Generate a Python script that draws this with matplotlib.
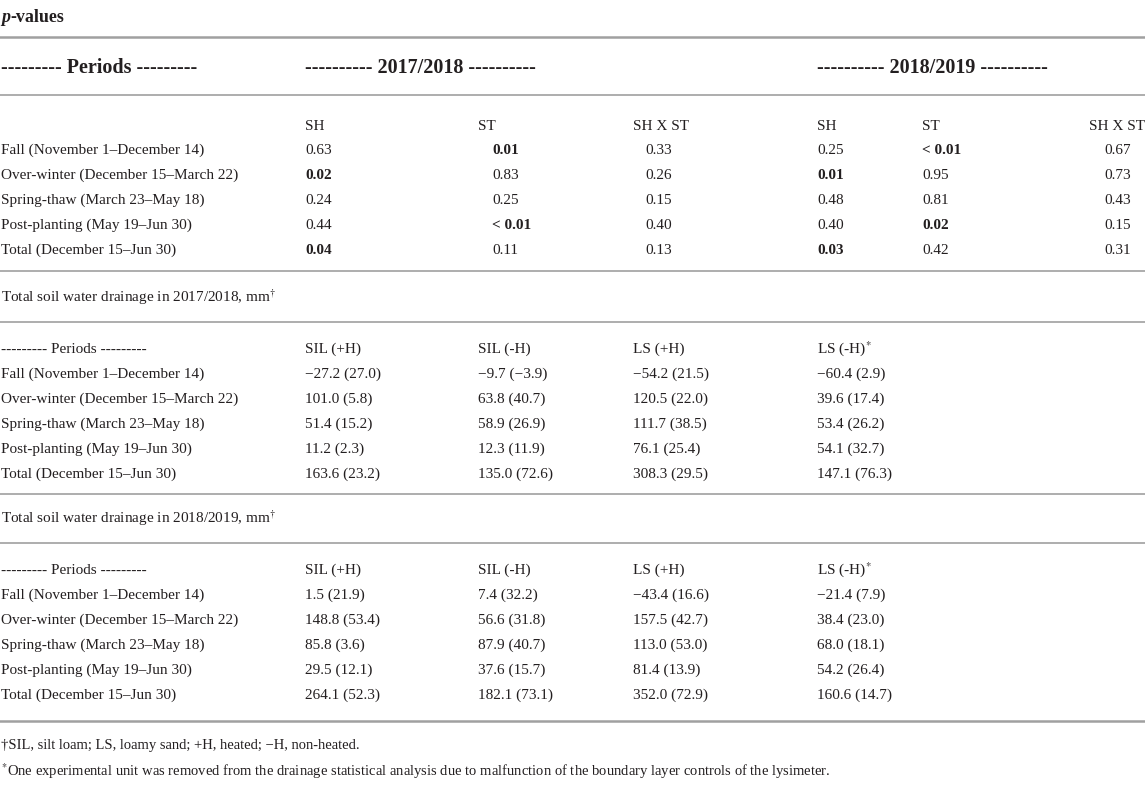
import matplotlib.pyplot as plt

plt.rcParams['font.family'] = ['Liberation Serif', 'DejaVu Serif']
plt.rcParams['mathtext.fontset'] = 'stix'

periods = ['Fall (November 1–December 14)',
           'Over-winter (December 15–March 22)',
           'Spring-thaw (March 23–May 18)',
           'Post-planting (May 19–Jun 30)',
           'Total (December 15–Jun 30)']

effects = ['SH', 'ST', 'SH X ST']
years = ['2017/2018', '2018/2019']

# p-values per effect and season
sh_1718 = ['0.63', '0.02', '0.24', '0.44', '0.04']
st_1718 = ['0.01', '0.83', '0.25', '< 0.01', '0.11']
shst_1718 = ['0.33', '0.26', '0.15', '0.40', '0.13']
sh_1819 = ['0.25', '0.01', '0.48', '0.40', '0.03']
st_1819 = ['< 0.01', '0.95', '0.81', '0.02', '0.42']
shst_1819 = ['0.67', '0.73', '0.43', '0.15', '0.31']

treatments = ['SIL (+H)', 'SIL (-H)', 'LS (+H)', 'LS (-H)']

# drainage mean (SE), mm, one list per treatment
mean_1718 = [[-27.2, 101.0, 51.4, 11.2, 163.6],
             [-9.7, 63.8, 58.9, 12.3, 135.0],
             [-54.2, 120.5, 111.7, 76.1, 308.3],
             [-60.4, 39.6, 53.4, 54.1, 147.1]]
se_1718 = [[27.0, 5.8, 15.2, 2.3, 23.2],
           [-3.9, 40.7, 26.9, 11.9, 72.6],
           [21.5, 22.0, 38.5, 25.4, 29.5],
           [2.9, 17.4, 26.2, 32.7, 76.3]]
mean_1819 = [[1.5, 148.8, 85.8, 29.5, 264.1],
             [7.4, 56.6, 87.9, 37.6, 182.1],
             [-43.4, 157.5, 113.0, 81.4, 352.0],
             [-21.4, 38.4, 68.0, 54.2, 160.6]]
se_1819 = [[21.9, 53.4, 3.6, 12.1, 52.3],
           [32.2, 31.8, 40.7, 15.7, 73.1],
           [16.6, 42.7, 53.0, 13.9, 72.9],
           [7.9, 23.0, 18.1, 26.4, 14.7]]

W, H = 1145, 797
TXT = '#231f20'
RULE = '#a0a0a0'
FS = 11

fig = plt.figure(figsize=(W / 100, H / 100), dpi=100)
ax = fig.add_axes([0, 0, 1, 1])
ax.set_xlim(0, W)
ax.set_ylim(H, 0)
ax.axis('off')


def rule(y, lw=1.2):
    ax.axhline(y, color=RULE, lw=lw)


def put(x, y, s, ha='left', bold=False, size=FS, **kw):
    ax.text(x, y, s, ha=ha, va='center', color=TXT, fontsize=size,
            fontweight='bold' if bold else 'normal', **kw)


def fmt(v):
    return f'{v:.1f}'.replace('-', '\u2212')


def signif(p):
    return float(p.replace('<', '').strip()) < 0.05


# ---- p-values block
t = ax.text(1, 17, 'p', ha='left', va='center', color=TXT, fontsize=13,
            fontweight='bold', fontstyle='italic')
ax.annotate('-values', xy=(1, 0.5), xycoords=t, ha='left', va='center',
            color=TXT, fontsize=13, fontweight='bold')
rule(37, 1.8)

put(1, 68, '--------- Periods ---------', bold=True, size=14.5)
put(305, 68, '---------- ' + years[0] + ' ----------', bold=True, size=14.5)
put(817, 68, '---------- ' + years[1] + ' ----------', bold=True, size=14.5)
rule(95)

hdr_y = 126
put(305, hdr_y, effects[0])
put(478, hdr_y, effects[1])
put(633, hdr_y, effects[2])
put(817, hdr_y, effects[0])
put(922, hdr_y, effects[1])
put(W, hdr_y, effects[2], ha='right')

cols = [(sh_1718, 305, 'left'), (st_1718, 492, 'left'), (shst_1718, 659, 'center'),
        (sh_1819, 817, 'left'), (st_1819, 922, 'left'), (shst_1819, 1118, 'center')]
row_y = [150, 175, 200, 225, 250]
for i, y in enumerate(row_y):
    put(1, y, periods[i])
    for vals, x, ha in cols:
        put(x, y, vals[i], ha=ha, bold=signif(vals[i]))
rule(271)

# ---- drainage blocks
drain_x = [305, 478, 633, 817]


def drainage_block(y0, year, means, ses):
    put(1, y0, 'Total soil water drainage in ' + year + r', mm$^{\dagger}$')
    rule(y0 + 25)
    hy = y0 + 52
    put(1, hy, '--------- Periods ---------')
    for j, name in enumerate(treatments):
        label = name + (r'$^{*}$' if j == 3 else '')
        put(drain_x[j], hy, label)
    for i in range(len(periods)):
        y = hy + 25 * (i + 1)
        put(1, y, periods[i])
        for j in range(len(treatments)):
            put(drain_x[j], y, f'{fmt(means[j][i])} ({fmt(ses[j][i])})')


drainage_block(297, years[0], mean_1718, se_1718)
rule(494)
drainage_block(518, years[1], mean_1819, se_1819)
rule(721, 1.8)

put(1, 745, '\u2020SIL, silt loam; LS, loamy sand; +H, heated; \u2212H, non-heated.', size=10.5)
put(1, 771, r'$^{*}$One experimental unit was removed from the drainage statistical analysis '
            'due to malfunction of the boundary layer controls of the lysimeter.', size=10.5)

fig.savefig('out.png', dpi=100)
